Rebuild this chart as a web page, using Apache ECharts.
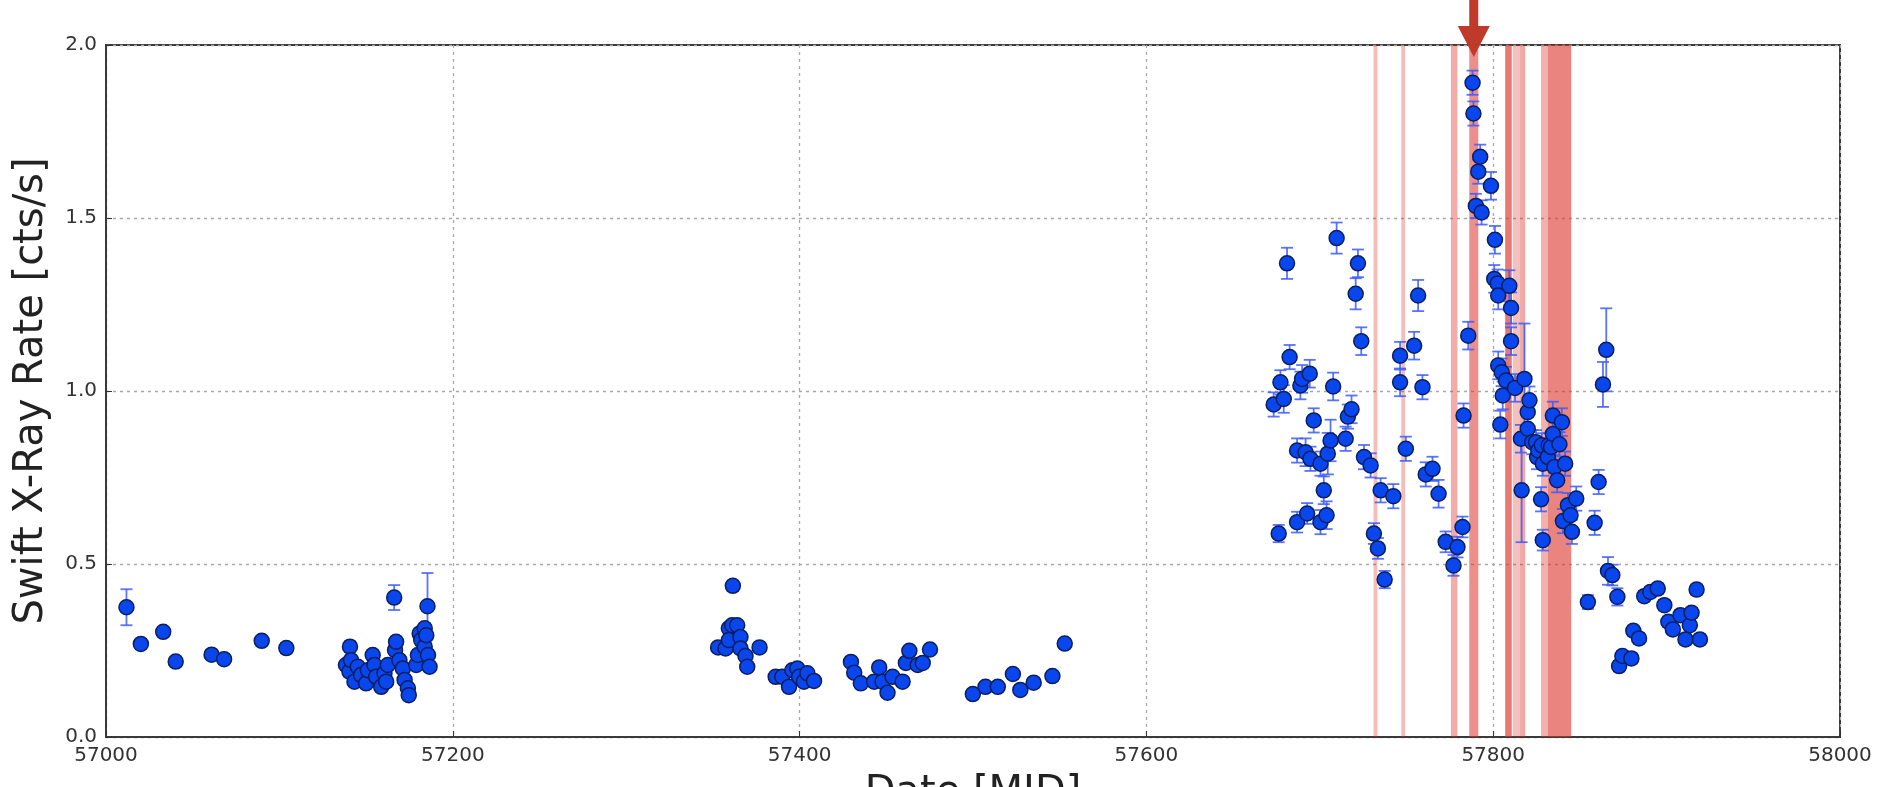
<!DOCTYPE html>
<html><head><meta charset="utf-8">
<script src="https://cdn.jsdelivr.net/npm/echarts@6/dist/echarts.min.js"></script>
<style>html,body{margin:0;padding:0;background:#fff;overflow:hidden}#c{width:1877px;height:787px}</style>
</head><body><div id="c"></div>
<script>
// ---- axis ticks ----
const xTicks = [57000, 57200, 57400, 57600, 57800, 58000];
const yTicks = [0.0, 0.5, 1.0, 1.5, 2.0];

// ---- season 1 (2015) ----
const s1Mjd  = [57011.8,57020.1,57033.0,57040.2,57060.9,57068.1,57089.8,57104.0,
  57138.4,57140.4,57140.7,57141.3,57143.3,57145.2,57147.1,57150.0,57151.0,57153.8,57154.8,57155.8,
  57158.7,57160.6,57161.6,57162.5,57166.2,57166.7,57167.3,57169.2,57171.2,57172.2,57174.1,57174.6,
  57178.9,57179.9,57180.9,57181.8,57183.8,57183.8,57184.7,57185.4,57185.7,57186.6];
const s1Rate = [0.375,0.269,0.304,0.218,0.238,0.225,0.278,0.257,
  0.208,0.189,0.261,0.222,0.160,0.203,0.179,0.155,0.193,0.237,0.208,0.174,
  0.145,0.184,0.160,0.208,0.403,0.251,0.275,0.222,0.198,0.165,0.141,0.121,
  0.208,0.237,0.299,0.280,0.314,0.261,0.294,0.378,0.237,0.203];
const s1Err  = [0.052,0.012,0.012,0.012,0.012,0.012,0.012,0.015,
  0.012,0.012,0.015,0.012,0.012,0.012,0.012,0.012,0.012,0.015,0.012,0.012,
  0.012,0.012,0.012,0.012,0.036,0.015,0.015,0.012,0.012,0.012,0.012,0.012,
  0.012,0.015,0.015,0.015,0.015,0.015,0.015,0.096,0.015,0.012];

// ---- season 2 (2016 first half) ----
const s2Mjd  = [57353.0,57357.3,57359.2,57359.2,57361.1,57361.5,57364.0,57365.9,57365.9,57368.8,57369.8,57376.9,
  57386.2,57390.0,57393.9,57395.8,57398.7,57399.7,57402.5,57404.5,57408.3,
  57429.6,57431.5,57435.3,57443.0,57445.9,57447.8,57450.7,57453.6,57459.4,57461.3,57463.3,57468.1,57471.0,57475.2,
  57499.9,57507.2,57514.3,57523.0,57527.3,57535.0,57545.8,57552.9];
const s2Rate = [0.259,0.256,0.314,0.280,0.323,0.437,0.323,0.289,0.256,0.234,0.203,0.259,
  0.174,0.174,0.145,0.193,0.198,0.174,0.160,0.184,0.162,
  0.217,0.186,0.155,0.160,0.201,0.160,0.128,0.174,0.160,0.214,0.249,0.208,0.214,0.253,
  0.124,0.145,0.145,0.182,0.136,0.157,0.176,0.270];
const s2Err  = [0.012,0.012,0.012,0.012,0.012,0.015,0.012,0.012,0.012,0.012,0.012,0.012,
  0.010,0.010,0.010,0.010,0.010,0.010,0.010,0.010,0.010,
  0.012,0.010,0.010,0.010,0.012,0.010,0.010,0.010,0.010,0.012,0.012,0.012,0.012,0.012,
  0.010,0.010,0.010,0.010,0.010,0.010,0.010,0.012];

// ---- season 3 (active phase 2016-2017) ----
const s3Mjd  = [57673.4,57676.3,57677.3,57679.2,57681.1,57682.6,57686.9,57686.9,57688.8,57689.8,
  57691.8,57692.7,57694.2,57694.6,57696.5,57700.4,57700.4,57702.3,57703.9,57704.6,
  57706.2,57707.7,57709.7,57714.9,57716.2,57718.3,57720.7,57722.0,57723.9,57725.5,
  57729.3,57731.2,57733.5,57735.1,57737.4,57742.4,57746.3,57746.3,57749.6,57754.4,
  57756.7,57759.2,57761.1,57765.0,57768.5,57772.6,57777.1,57779.4,57782.3,57782.9,57785.6];
const s3Rate = [0.961,0.588,1.025,0.977,1.369,1.098,0.828,0.621,1.016,1.035,
  0.823,0.646,1.050,0.804,0.915,0.790,0.621,0.713,0.641,0.819,
  0.857,1.013,1.442,0.862,0.926,0.947,1.281,1.369,1.144,0.809,
  0.785,0.588,0.545,0.713,0.455,0.696,1.102,1.025,0.833,1.131,
  1.276,1.011,0.759,0.775,0.703,0.564,0.496,0.549,0.607,0.929,1.160];
const s3Err  = [0.035,0.025,0.035,0.040,0.045,0.035,0.035,0.030,0.040,0.040,
  0.040,0.030,0.040,0.035,0.035,0.035,0.035,0.040,0.040,0.060,
  0.060,0.040,0.045,0.035,0.035,0.040,0.045,0.040,0.040,0.035,
  0.035,0.030,0.030,0.035,0.025,0.035,0.040,0.040,0.035,0.040,
  0.045,0.035,0.035,0.035,0.040,0.030,0.030,0.030,0.030,0.035,0.040];

// ---- season 3 (outburst peak and decline) ----
const s4Mjd  = [57788.1,57788.6,57790.0,57791.4,57792.5,57793.3,57798.7,57800.6,57801.0,57802.6,
  57802.9,57802.9,57804.1,57804.9,57805.5,57807.4,57809.3,57810.3,57810.3,57812.6,
  57816.0,57816.4,57818.0,57819.9,57819.9,57820.9,57822.5,57824.7,57825.3,57826.0,
  57827.6,57828.0,57828.6,57828.6,57831.5,57832.0,57833.4,57834.4,57834.4,57835.3,
  57836.9,57838.2,57839.6,57840.2,57841.5,57843.1,57844.6,57845.4,57847.9,57854.6,
  57858.5,57860.8,57863.3,57865.2,57866.2,57868.7,57871.6,57872.6,57874.5,57879.7,
  57880.8,57884.1,57887.1,57890.6,57894.9,57898.7,57901.0,57903.6,57908.0,57910.9,
  57913.4,57914.4,57917.3,57919.2];
const s4Rate = [1.891,1.802,1.535,1.634,1.677,1.516,1.593,1.324,1.437,1.311,
  1.276,1.074,0.903,1.054,0.987,1.030,1.304,1.240,1.144,1.009,
  0.862,0.713,1.035,0.939,0.891,0.973,0.852,0.852,0.809,0.828,
  0.687,0.843,0.790,0.569,0.809,0.843,0.838,0.929,0.876,0.780,
  0.742,0.846,0.910,0.624,0.790,0.670,0.641,0.593,0.689,0.390,
  0.619,0.737,1.019,1.119,0.480,0.468,0.405,0.205,0.234,0.227,
  0.307,0.285,0.407,0.419,0.429,0.381,0.333,0.311,0.352,0.282,
  0.323,0.359,0.426,0.282];
const s4Err  = [0.035,0.035,0.035,0.035,0.035,0.035,0.040,0.040,0.040,0.040,
  0.040,0.040,0.040,0.040,0.040,0.040,0.045,0.045,0.040,0.040,
  0.040,0.150,0.160,0.040,0.040,0.040,0.035,0.035,0.035,0.035,
  0.035,0.035,0.035,0.030,0.035,0.035,0.035,0.040,0.040,0.035,
  0.035,0.035,0.040,0.035,0.035,0.035,0.035,0.035,0.035,0.020,
  0.035,0.035,0.065,0.120,0.040,0.030,0.025,0.015,0.015,0.015,
  0.015,0.015,0.015,0.015,0.015,0.015,0.015,0.015,0.015,0.015,
  0.015,0.015,0.015,0.015];

// ---- shaded red intervals (MJD start / end / opacity) ----
const bandStart = [57731.0,57747.0,57775.6,57786.2,57806.9,57811.3,57815.5,57827.6,57831.5];
const bandEnd   = [57733.2,57749.2,57779.4,57791.4,57810.7,57815.5,57818.5,57831.5,57845.0];
const bandAlpha = [0.32,0.32,0.40,0.55,0.65,0.30,0.42,0.38,0.60];

// ---- arrow marker ----
const arrowMjd = 57788.8;
const arrowRate = 2.0;

const allMjd  = [].concat(s1Mjd, s2Mjd, s3Mjd, s4Mjd);
const allRate = [].concat(s1Rate, s2Rate, s3Rate, s4Rate);
const allErr  = [].concat(s1Err, s2Err, s3Err, s4Err);

const pts = allMjd.map((m, i) => [m, allRate[i]]);
const errs = allMjd.map((m, i) => [m, allRate[i] - allErr[i], allRate[i] + allErr[i]]);

const FONT = 'DejaVu Sans';
const chart = echarts.init(document.getElementById('c'), null, {renderer: 'canvas'});
chart.setOption({
  animation: false,
  backgroundColor: '#ffffff',
  grid: {left: 106, right: 37, top: 45, bottom: 50, containLabel: false, outerBoundsMode: 'none',
    show: true, borderColor: '#3a3a3a', borderWidth: 2, backgroundColor: 'transparent'},
  xAxis: {
    type: 'value', min: xTicks[0], max: xTicks[xTicks.length - 1], interval: 200,
    name: 'Date [MJD]', nameLocation: 'middle', nameGap: 37,
    nameTextStyle: {fontFamily: FONT, fontSize: 40, color: '#222'},
    axisLine: {show: true, onZero: false, lineStyle: {color: '#3a3a3a', width: 2}},
    axisTick: {show: true, inside: true, length: 6, lineStyle: {color: '#333'}},
    axisLabel: {fontFamily: FONT, fontSize: 20, color: '#333', margin: 9, formatter: v => String(v)},
    splitLine: {show: true, lineStyle: {color: '#a8a8a8', width: 1.3, type: [3, 4]}}
  },
  yAxis: {
    type: 'value', min: yTicks[0], max: yTicks[yTicks.length - 1], interval: 0.5,
    name: 'Swift X-Ray Rate [cts/s]', nameLocation: 'middle', nameGap: 54,
    nameTextStyle: {fontFamily: FONT, fontSize: 40, color: '#222'},
    axisLine: {show: true, lineStyle: {color: '#3a3a3a', width: 2}},
    axisTick: {show: true, inside: true, length: 6, lineStyle: {color: '#333'}},
    axisLabel: {fontFamily: FONT, fontSize: 20, color: '#333', margin: 9, formatter: v => v.toFixed(1)},
    splitLine: {show: true, lineStyle: {color: '#a8a8a8', width: 1.3, type: [3, 4]}}
  },
  series: [
    {
      type: 'line', data: [], z: 1, silent: true,
      markArea: {
        silent: true,
        data: bandStart.map((s, i) => [
          {xAxis: s, itemStyle: {color: 'rgba(220,50,40,' + bandAlpha[i] + ')'}},
          {xAxis: bandEnd[i]}
        ])
      }
    },
    {
      type: 'custom', z: 2, silent: true, data: errs,
      renderItem: function (params, api) {
        const x = api.value(0);
        const pLo = api.coord([x, api.value(1)]);
        const pHi = api.coord([x, api.value(2)]);
        const cap = 6;
        const style = {stroke: '#3d5cff', lineWidth: 1.8, opacity: 0.85};
        return {type: 'group', children: [
          {type: 'line', shape: {x1: pLo[0], y1: pLo[1], x2: pHi[0], y2: pHi[1]}, style: style},
          {type: 'line', shape: {x1: pLo[0] - cap, y1: pLo[1], x2: pLo[0] + cap, y2: pLo[1]}, style: style},
          {type: 'line', shape: {x1: pHi[0] - cap, y1: pHi[1], x2: pHi[0] + cap, y2: pHi[1]}, style: style}
        ]};
      }
    },
    {
      type: 'scatter', z: 3, data: pts, symbol: 'circle', symbolSize: 15,
      itemStyle: {color: '#0a46ee', borderColor: '#0b1f5e', borderWidth: 1.5, opacity: 1}
    },
    {
      type: 'scatter', z: 5, data: [], clip: false,
      markPoint: {
        silent: true,
        symbol: 'path://M11.5,0 L20.5,0 L20.5,26 L32,26 L16,57 L0,26 L11.5,26 Z',
        symbolSize: [32, 57], symbolOffset: [0, -16.5], symbolKeepAspect: false,
        itemStyle: {color: '#bf3a2b'},
        label: {show: false},
        data: [{coord: [arrowMjd, arrowRate]}]
      }
    }
  ]
});
</script>
</body></html>
